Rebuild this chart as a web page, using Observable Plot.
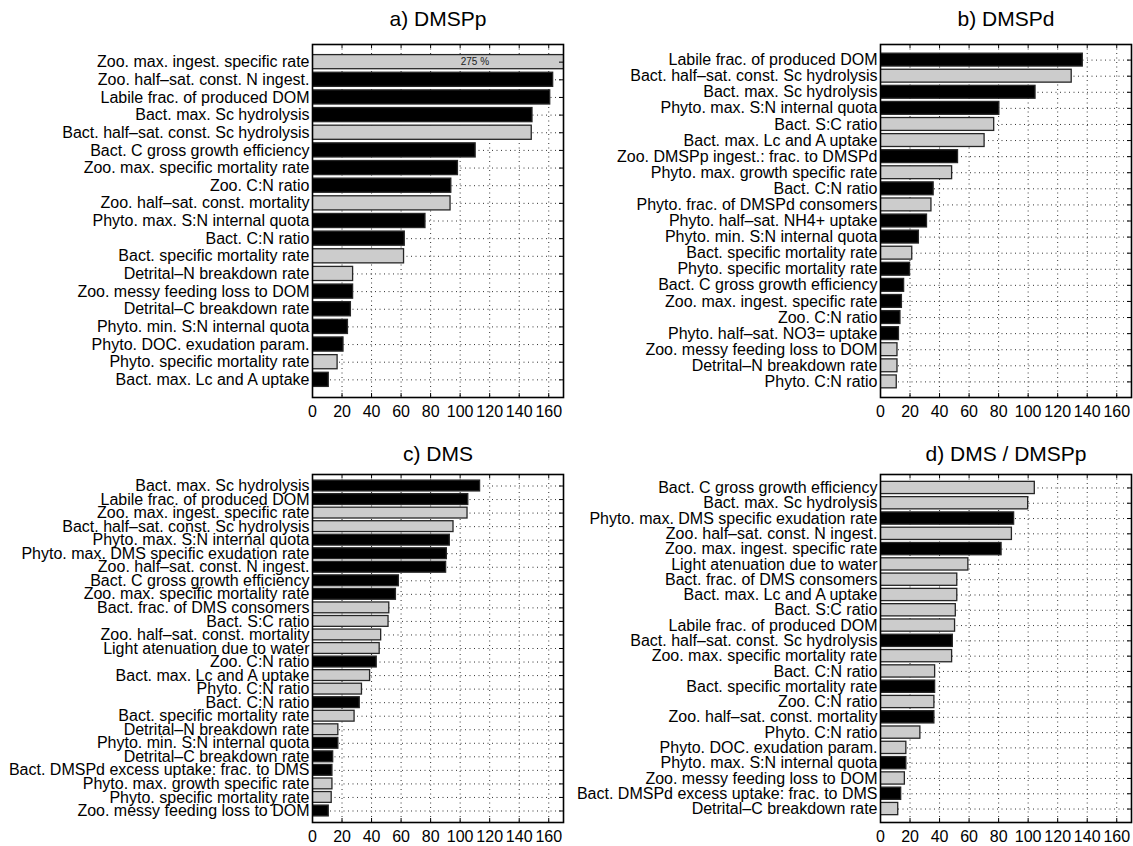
<!DOCTYPE html>
<html>
<head>
<meta charset="utf-8">
<script src="https://cdn.jsdelivr.net/npm/d3@7"></script>
<script src="https://cdn.jsdelivr.net/npm/@observablehq/plot@0.6"></script>
<style>
  html, body { margin: 0; padding: 0; background: #fff; }
  #fig { position: relative; width: 1133px; height: 846px; overflow: hidden; background: #fff;
         font-family: "Liberation Sans", Arial, Helvetica, sans-serif; color: #000; }
  #fig svg { position: absolute; overflow: visible; }
</style>
</head>
<body>
<div id="fig"></div>
<script>
// ---------- data ----------
const xTicks = [0, 20, 40, 60, 80, 100, 120, 140, 160];
const xDomain = [0, 170];

const aTitle = "a) DMSPp";
const aNames = ["Zoo. max. ingest. specific rate","Zoo. half\u2013sat. const. N ingest.","Labile frac. of produced DOM","Bact. max. Sc hydrolysis","Bact. half\u2013sat. const. Sc hydrolysis","Bact. C gross growth efficiency","Zoo. max. specific mortality rate","Zoo. C:N ratio","Zoo. half\u2013sat. const. mortality","Phyto. max. S:N internal quota","Bact. C:N ratio","Bact. specific mortality rate","Detrital\u2013N breakdown rate","Zoo. messy feeding loss to DOM","Detrital\u2013C breakdown rate","Phyto. min. S:N internal quota","Phyto. DOC. exudation param.","Phyto. specific mortality rate","Bact. max. Lc and A uptake"];
const aValues = [275, 163, 161, 149, 148.5, 110.5, 98.5, 94, 93.5, 76.5, 62.5, 62, 27.5, 27.5, 26, 24, 21, 17, 11];
const aShades = ["g","k","k","k","g","k","k","k","g","k","k","g","g","k","k","k","k","g","k"];
const aNotes = [{name: "Zoo. max. ingest. specific rate", at: 110, text: "275 %"}];

const bTitle = "b) DMSPd";
const bNames = ["Labile frac. of produced DOM","Bact. half\u2013sat. const. Sc hydrolysis","Bact. max. Sc hydrolysis","Phyto. max. S:N internal quota","Bact. S:C ratio","Bact. max. Lc and A uptake","Zoo. DMSPp ingest.: frac. to DMSPd","Phyto. max. growth specific rate","Bact. C:N ratio","Phyto. frac. of DMSPd consomers","Phyto. half\u2013sat. NH4+ uptake","Phyto. min. S:N internal quota","Bact. specific mortality rate","Phyto. specific mortality rate","Bact. C gross growth efficiency","Zoo. max. ingest. specific rate","Zoo. C:N ratio","Phyto. half\u2013sat. NO3= uptake","Zoo. messy feeding loss to DOM","Detrital\u2013N breakdown rate","Phyto. C:N ratio"];
const bValues = [137, 129.5, 105, 80.5, 77, 70.5, 52.5, 48.5, 36, 34.5, 31.5, 26, 21.5, 20, 16, 14.5, 13.5, 12.5, 11.5, 11.5, 11];
const bShades = ["k","g","k","k","g","g","k","g","k","g","k","k","g","k","k","k","k","k","g","g","g"];

const cTitle = "c) DMS";
const cNames = ["Bact. max. Sc hydrolysis","Labile frac. of produced DOM","Zoo. max. ingest. specific rate","Bact. half\u2013sat. const. Sc hydrolysis","Phyto. max. S:N internal quota","Phyto. max. DMS specific exudation rate","Zoo. half\u2013sat. const. N ingest.","Bact. C gross growth efficiency","Zoo. max. specific mortality rate","Bact. frac. of DMS consomers","Bact. S:C ratio","Zoo. half\u2013sat. const. mortality","Light atenuation due to water","Zoo. C:N ratio","Bact. max. Lc and A uptake","Phyto. C:N ratio","Bact. C:N ratio","Bact. specific mortality rate","Detrital\u2013N breakdown rate","Phyto. min. S:N internal quota","Detrital\u2013C breakdown rate","Bact. DMSPd excess uptake: frac. to DMS","Phyto. max. growth specific rate","Phyto. specific mortality rate","Zoo. messy feeding loss to DOM"];
const cValues = [113.5, 105.5, 105, 95.5, 93, 91, 90.5, 58.5, 56.5, 52, 51.5, 46.5, 45.5, 43.5, 39, 33.5, 32, 28.5, 17.5, 17.5, 14, 13.5, 13.5, 13, 11];
const cShades = ["k","k","g","g","k","k","k","k","k","g","g","g","g","k","g","g","k","g","g","k","k","k","g","g","k"];

const dTitle = "d) DMS / DMSPp";
const dNames = ["Bact. C gross growth efficiency","Bact. max. Sc hydrolysis","Phyto. max. DMS specific exudation rate","Zoo. half\u2013sat. const. N ingest.","Zoo. max. ingest. specific rate","Light atenuation due to water","Bact. frac. of DMS consomers","Bact. max. Lc and A uptake","Bact. S:C ratio","Labile frac. of produced DOM","Bact. half\u2013sat. const. Sc hydrolysis","Zoo. max. specific mortality rate","Bact. C:N ratio","Bact. specific mortality rate","Zoo. C:N ratio","Zoo. half\u2013sat. const. mortality","Phyto. C:N ratio","Phyto. DOC. exudation param.","Phyto. max. S:N internal quota","Zoo. messy feeding loss to DOM","Bact. DMSPd excess uptake: frac. to DMS","Detrital\u2013C breakdown rate"];
const dValues = [104.5, 100, 90.5, 89, 82, 59.5, 52, 52, 51, 50.5, 49, 48.5, 37, 37, 36.5, 36.5, 27, 17.5, 17.5, 16.5, 14, 12];
const dShades = ["g","g","k","g","k","g","g","g","g","g","k","g","g","k","g","k","g","g","k","g","k","g"];

// ---------- drawing ----------
const FONT = "'Liberation Sans', Arial, Helvetica, sans-serif";
const fig = document.getElementById("fig");

function panel(cfg) {
  const {title, names, values, shades, notes = [], left, top, width, height,
         marginLeft, marginRight, marginTop, marginBottom, titleDy, outer} = cfg;
  const data = names.map((n, i) => ({name: n, value: values[i], shade: shades[i]}));
  const fw = width - marginLeft - marginRight;
  const fh = height - marginTop - marginBottom;
  const grid = xTicks.filter(t => t > 0);
  const chart = Plot.plot({
    width, height, marginLeft, marginRight, marginTop, marginBottom,
    style: {fontFamily: FONT, fontSize: "16px", color: "#000", background: "transparent", overflow: "visible"},
    x: {domain: xDomain},
    y: {domain: names, paddingInner: 0.2, paddingOuter: outer, round: false},
    color: {domain: ["k", "g"], range: ["#000000", "#cccccc"]},
    marks: [
      // dotted grid
      Plot.ruleX(grid, {x: d => d, stroke: "#333", strokeWidth: 1, strokeDasharray: "1,3.5"}),
      Plot.ruleY(names, {y: d => d, stroke: "#333", strokeWidth: 1, strokeDasharray: "1,3.5"}),
      // bars
      Plot.barX(data, {y: "name", x: "value", fill: "shade", stroke: "#262626", strokeWidth: 1.3, clip: true}),
      Plot.text(notes, {y: "name", x: "at", text: "text", fontSize: 10, fill: "#222"}),
      // inward ticks
      Plot.ruleX(grid, {x: d => d, insetBottom: fh - 4, stroke: "#000", strokeWidth: 1}),
      Plot.ruleX(grid, {x: d => d, insetTop: fh - 4, stroke: "#000", strokeWidth: 1}),
      Plot.tickY(names, {y: d => d, insetLeft: fw - 4, stroke: "#000", strokeWidth: 1}),
      // frame + axes
      Plot.frame({stroke: "#000", strokeWidth: 1.6}),
      Plot.axisX(xTicks, {tickSize: 0, tickPadding: 8, fontSize: 16, fill: "#000", tickFormat: d => String(d)}),
      Plot.axisY({tickSize: 0, tickPadding: 3, fontSize: 16, fill: "#000", label: null}),
      // title
      Plot.text([title], {frameAnchor: "top", dy: titleDy, lineAnchor: "bottom", fontSize: 21, fill: "#000", text: d => d})
    ]
  });
  chart.style.left = left + "px";
  chart.style.top = top + "px";
  fig.appendChild(chart);
}

panel({title: aTitle, names: aNames, values: aValues, shades: aShades, notes: aNotes, outer: 0.6,
       left: 0, top: 0, width: 566, height: 423,
       marginLeft: 312, marginRight: 3, marginTop: 44, marginBottom: 26, titleDy: -19});
panel({title: bTitle, names: bNames, values: bValues, shades: bShades, outer: 0.57,
       left: 566, top: 0, width: 567, height: 423,
       marginLeft: 314, marginRight: 2, marginTop: 44, marginBottom: 26, titleDy: -19});
panel({title: cTitle, names: cNames, values: cValues, shades: cShades, outer: 0.45,
       left: 0, top: 423, width: 566, height: 423,
       marginLeft: 312, marginRight: 3, marginTop: 51, marginBottom: 24, titleDy: -14});
panel({title: dTitle, names: dNames, values: dValues, shades: dShades, outer: 0.48,
       left: 566, top: 423, width: 567, height: 423,
       marginLeft: 314, marginRight: 2, marginTop: 51, marginBottom: 24, titleDy: -14});
</script>
</body>
</html>
